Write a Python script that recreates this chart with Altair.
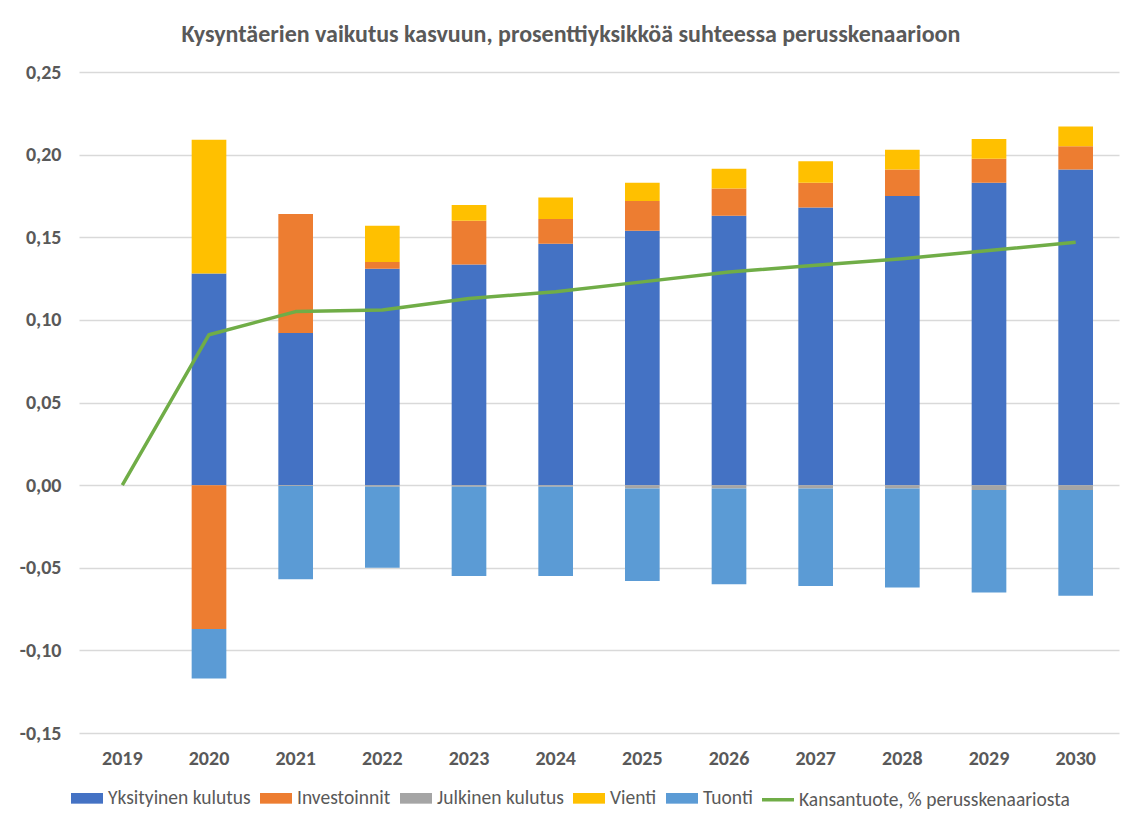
import altair as alt
import pandas as pd

years = [str(y) for y in range(2019, 2031)]
bar_years = years[1:]

series = ["Yksityinen kulutus", "Investoinnit", "Julkinen kulutus", "Vienti", "Tuonti"]
line_name = "Kansantuote, % perusskenaariosta"
colors = ["#4472c4", "#ed7d31", "#a5a5a5", "#ffc000", "#5b9bd5", "#70ad47"]

yksityinen = [0.128, 0.092, 0.131, 0.1335, 0.146, 0.154, 0.163, 0.168, 0.175, 0.183, 0.191]
investoinnit = [-0.087, 0.072, 0.004, 0.0265, 0.015, 0.018, 0.0165, 0.015, 0.016, 0.0145, 0.014]
julkinen = [0.0, -0.0005, -0.001, -0.001, -0.001, -0.002, -0.002, -0.002, -0.002, -0.003, -0.003]
vienti = [0.081, 0.0, 0.022, 0.0095, 0.013, 0.011, 0.012, 0.013, 0.012, 0.012, 0.012]
tuonti = [-0.030, -0.0565, -0.049, -0.054, -0.054, -0.056, -0.058, -0.059, -0.060, -0.062, -0.064]
kansantuote = [0.0, 0.091, 0.105, 0.106, 0.113, 0.117, 0.123, 0.129, 0.133, 0.137, 0.142, 0.147]

y_ticks = [-0.15, -0.10, -0.05, 0.0, 0.05, 0.10, 0.15, 0.20, 0.25]
title_text = "Kysyntäerien vaikutus kasvuun, prosenttiyksikköä suhteessa perusskenaarioon"

all_values = [yksityinen, investoinnit, julkinen, vienti, tuonti]
rows = []
for i, name in enumerate(series):
    for yr, v in zip(bar_years, all_values[i]):
        rows.append({"year": yr, "series": name, "value": v, "order": i})
bars_df = pd.DataFrame(rows)
line_df = pd.DataFrame({"year": years, "value": kansantuote})

FONT = "Carlito, Calibri, Lato, sans-serif"
GREY = "#595959"

x_enc = alt.X(
    "year:N",
    scale=alt.Scale(domain=years, paddingInner=0.6, paddingOuter=0.3),
    axis=alt.Axis(title=None, labelAngle=0, domain=False, ticks=False, labelPadding=15,
                  labelFontWeight="bold", labelFontSize=20, labelColor=GREY, labelFont=FONT),
)
y_scale = alt.Scale(domain=[-0.15, 0.25], nice=False, zero=False)
y_axis = alt.Axis(
    title=None, values=y_ticks, domain=False, ticks=False, labelPadding=18,
    grid=True, gridColor="#d9d9d9", gridWidth=1.3,
    labelFontWeight="bold", labelFontSize=20, labelColor=GREY, labelFont=FONT,
    labelExpr="replace(replace(format(datum.value, '.2f'), '.', ','), '\u2212', '-')",
)

is_line = f"datum.value === '{line_name}'"
rect_path = "M-1,-0.333H1V0.333H-1Z"
legend = alt.Legend(
    title=None, orient="none", legendX=-10, legendY=708, direction="horizontal",
    symbolType=alt.ExprRef(expr=f"{is_line} ? 'stroke' : '{rect_path}'"),
    symbolStrokeColor=alt.ExprRef(expr=f"{is_line} ? '#70ad47' : 'transparent'"),
    symbolStrokeWidth=3.5, symbolSize=1024, symbolOpacity=1,
    labelFontSize=19.5, labelColor=GREY, labelFont=FONT, labelOffset=3,
    columnPadding=2, labelLimit=500,
)

bars = alt.Chart(bars_df).mark_bar().encode(
    x=x_enc,
    y=alt.Y("value:Q", scale=y_scale, axis=y_axis, stack="zero"),
    color=alt.Color("series:N", scale=alt.Scale(domain=series + [line_name], range=colors), legend=legend),
    order=alt.Order("order:Q", sort="ascending"),
)

line = alt.Chart(line_df).mark_line(color="#70ad47", strokeWidth=3.5, strokeJoin="round").encode(
    x=alt.X("year:N", scale=alt.Scale(domain=years)),
    y=alt.Y("value:Q", scale=y_scale),
)

chart = alt.layer(bars, line).properties(
    width=1040,
    height=661,
    title=alt.TitleParams(title_text, fontSize=24, font=FONT, fontWeight="bold", color=GREY,
                          anchor="middle", dx=-28, offset=15),
    autosize=alt.AutoSizeParams(type="none"),
    padding={"left": 71, "top": 64, "right": 5, "bottom": 82},
).configure_view(stroke=None)

chart.save("out.html", embed_options={"renderer": "svg", "actions": False})
